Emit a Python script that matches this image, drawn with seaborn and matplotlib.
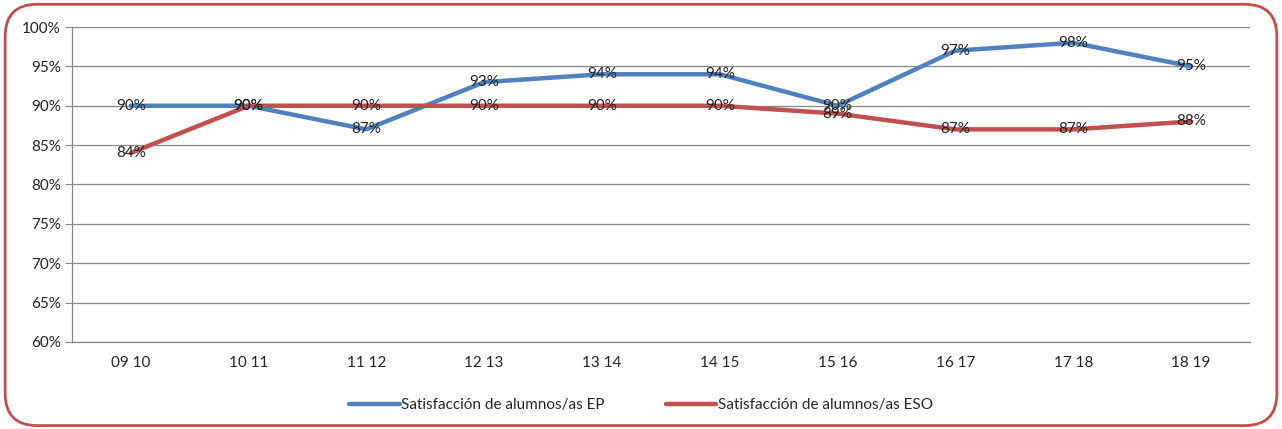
import pandas as pd
import matplotlib.pyplot as plt
import seaborn as sns
from matplotlib.patches import FancyBboxPatch
from matplotlib.ticker import FixedLocator

# Data
cursos = ["09 10", "10 11", "11 12", "12 13", "13 14", "14 15", "15 16", "16 17", "17 18", "18 19"]
ep = [90, 90, 87, 93, 94, 94, 90, 97, 98, 95]
eso = [84, 90, 90, 90, 90, 90, 89, 87, 87, 88]
serie_ep = "Satisfacción de alumnos/as EP"
serie_eso = "Satisfacción de alumnos/as ESO"
y_ticks = [60, 65, 70, 75, 80, 85, 90, 95, 100]

df = pd.DataFrame({
    "pos": list(range(len(cursos))) * 2,
    "valor": ep + eso,
    "serie": [serie_ep] * len(ep) + [serie_eso] * len(eso),
})

sns.set_style("white")
plt.rcParams["font.family"] = ["Lato", "DejaVu Sans"]

fig = plt.figure(figsize=(12.82, 4.29), dpi=100)
ax = fig.add_axes([0.056, 0.203, 0.919, 0.734])

palette = {serie_ep: "#4F81BD", serie_eso: "#C0504D"}
sns.lineplot(data=df, x="pos", y="valor", hue="serie", palette=palette,
             linewidth=3.2, ax=ax, legend=True)

# data labels centred on the points (15 16 ones overlap, as in the original)
for i in range(len(cursos)):
    ax.text(i, ep[i], f"{ep[i]}%", ha="center", va="center", fontsize=11, color="#222222")
    ax.text(i, eso[i], f"{eso[i]}%", ha="center", va="center", fontsize=11, color="#222222")

ax.set_xlim(-0.5, len(cursos) - 0.5)
ax.set_ylim(60, 100)
ax.set_yticks(y_ticks)
ax.set_yticklabels([f"{v}%" for v in y_ticks], fontsize=11, color="#222222")
ax.set_xticks(range(len(cursos)))
ax.set_xticklabels(cursos, fontsize=11, color="#222222")
ax.xaxis.set_minor_locator(FixedLocator([i - 0.5 for i in range(len(cursos) + 1)]))
ax.tick_params(axis="x", which="major", length=0, pad=10)
ax.tick_params(axis="x", which="minor", length=5, color="#868686", direction="out")
ax.tick_params(axis="y", length=5, color="#868686", direction="out", pad=3, left=True)
ax.set_xlabel("")
ax.set_ylabel("")

ax.grid(axis="y", color="#868686", linewidth=0.9)
ax.set_axisbelow(True)
for side in ["top", "right"]:
    ax.spines[side].set_visible(False)
for side in ["left", "bottom"]:
    ax.spines[side].set_color("#868686")
    ax.spines[side].set_linewidth(0.9)

handles, labels = ax.get_legend_handles_labels()
ax.legend(handles, labels, loc="center", bbox_to_anchor=(0.5, 0.055),
          bbox_transform=fig.transFigure, ncol=2, frameon=False,
          fontsize=11, handlelength=3.3, handletextpad=0.1, columnspacing=4.0)

# rounded red border around the whole chart
border = FancyBboxPatch((0.004, 0.008), 0.992, 0.982, boxstyle="round,pad=0,rounding_size=0.025",
                        transform=fig.transFigure, fill=False, edgecolor="#C0504D",
                        linewidth=2, mutation_aspect=3)
fig.patches.append(border)

fig.savefig("out.png", dpi=100)
